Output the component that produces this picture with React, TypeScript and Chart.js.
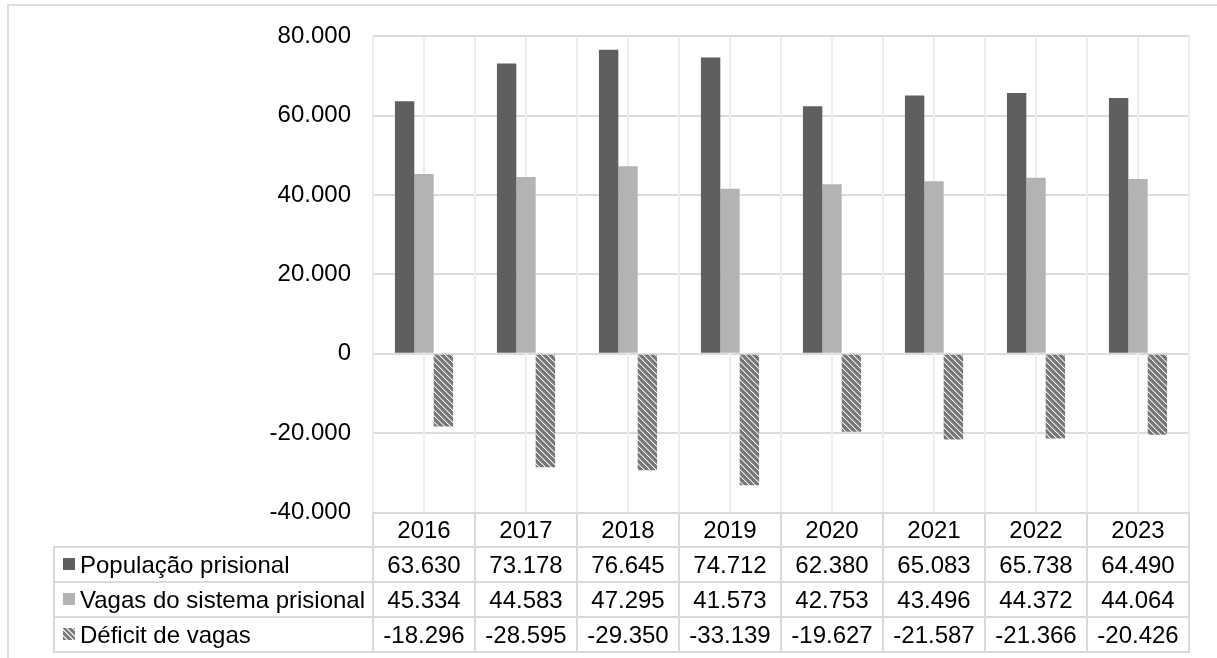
import React, { useEffect, useRef } from "react";
import { Chart, registerables } from "chart.js";

Chart.register(...registerables);

const categories = ["2016", "2017", "2018", "2019", "2020", "2021", "2022", "2023"];
const populacao = [63630, 73178, 76645, 74712, 62380, 65083, 65738, 64490];
const vagas = [45334, 44583, 47295, 41573, 42753, 43496, 44372, 44064];
const deficit = [-18296, -28595, -29350, -33139, -19627, -21587, -21366, -20426];
const seriesNames = ["População prisional", "Vagas do sistema prisional", "Déficit de vagas"];
const yMin = -40000;
const yMax = 80000;
const yStep = 20000;

const FONT = "'Liberation Sans', Arial, sans-serif";
const DARK = "#5f5f5f";
const LIGHT = "#b3b3b3";

function fmt(n: number): string {
  const s = String(Math.abs(n)).replace(/\B(?=(\d{3})+(?!\d))/g, ".");
  return (n < 0 ? "-" : "") + s;
}

function makePattern(): CanvasPattern | string {
  const c = document.createElement("canvas");
  const N = 6;
  c.width = N;
  c.height = N;
  const g = c.getContext("2d");
  if (!g) return "#808080";
  g.fillStyle = "#777777";
  g.fillRect(0, 0, N, N);
  for (let i = 0; i < N; i++) {
    g.fillStyle = "#eeeeee";
    g.fillRect(i, i, 1, 1);
    g.fillStyle = "#a8a8a8";
    g.fillRect((i + 1) % N, i, 1, 1);
  }
  const p = g.createPattern(c, "repeat");
  return p || "#808080";
}

const vGridPlugin = {
  id: "vgrid",
  beforeDatasetsDraw(chart: any) {
    const { ctx, chartArea, scales } = chart;
    const x = scales.x;
    const n = categories.length;
    const half = (chartArea.right - chartArea.left) / n / 2;
    ctx.save();
    ctx.strokeStyle = "#ededed";
    ctx.lineWidth = 2;
    for (let i = 0; i < n; i++) {
      const c = x.getPixelForValue(i);
      const xs = [c - half, c];
      if (i === n - 1) xs.push(c + half);
      for (const xx of xs) {
        ctx.beginPath();
        ctx.moveTo(xx, chartArea.top);
        ctx.lineTo(xx, chartArea.bottom);
        ctx.stroke();
      }
    }
    ctx.restore();
  },
};

export default function App() {
  const ref = useRef<HTMLCanvasElement | null>(null);

  useEffect(() => {
    if (!ref.current) return;
    const pattern = makePattern();
    const chart = new Chart(ref.current, {
      type: "bar",
      data: {
        labels: categories,
        datasets: [
          { label: seriesNames[0], data: populacao, backgroundColor: DARK },
          { label: seriesNames[1], data: vagas, backgroundColor: LIGHT },
          { label: seriesNames[2], data: deficit, backgroundColor: pattern as any },
        ],
      },
      options: {
        animation: false,
        responsive: false,
        devicePixelRatio: 1,
        layout: { padding: { left: 0, top: 34, right: 28, bottom: 145.5 } },
        datasets: {
          bar: { categoryPercentage: 0.57, barPercentage: 1.0, borderWidth: 0 },
        },
        plugins: {
          legend: { display: false },
          title: { display: false },
          tooltip: { enabled: false },
        },
        scales: {
          x: { display: false },
          y: {
            min: yMin,
            max: yMax,
            afterFit: (s: any) => {
              s.width = 373;
            },
            ticks: {
              stepSize: yStep,
              padding: 22,
              color: "#000",
              font: { family: FONT, size: 24 },
              callback: (v: any) => fmt(Number(v)),
            },
            grid: { color: "#dcdcdc", lineWidth: 2, drawTicks: false },
            border: { display: false },
          },
        },
      },
      plugins: [vGridPlugin],
    });
    return () => chart.destroy();
  }, []);

  const cellBorder = "2px solid #dadada";
  const td: React.CSSProperties = {
    border: cellBorder,
    padding: 0,
    textAlign: "center",
    verticalAlign: "middle",
    whiteSpace: "nowrap",
  };
  const swatch = (bg: string): React.CSSProperties => ({
    display: "inline-block",
    width: 12,
    height: 12,
    background: bg,
    marginRight: 5,
    verticalAlign: "middle",
    position: "relative",
    top: -2,
  });
  const hatchCss = "repeating-linear-gradient(45deg, #7a7a7a 0px, #7a7a7a 2.5px, #dedede 2.5px, #dedede 4px)";
  const rows = [
    { name: seriesNames[0], data: populacao, sw: DARK },
    { name: seriesNames[1], data: vagas, sw: LIGHT },
    { name: seriesNames[2], data: deficit, sw: hatchCss },
  ];

  return (
    <div
      style={{
        position: "absolute",
        left: 0,
        top: 0,
        width: 1217,
        height: 658,
        overflow: "hidden",
        background: "#fff",
      }}
    >
      <div
        style={{
          position: "absolute",
          left: 7,
          top: 4,
          width: 1400,
          height: 900,
          border: "2px solid #dddddd",
          boxSizing: "border-box",
        }}
      />
      <canvas
        ref={ref}
        width={1217}
        height={658}
        style={{ position: "absolute", left: 0, top: 0, width: 1217, height: 658 }}
      />
      <table
        style={{
          position: "absolute",
          left: 53,
          top: 512,
          borderCollapse: "collapse",
          tableLayout: "fixed",
          fontFamily: FONT,
          fontSize: 24,
          color: "#000",
        }}
      >
        <colgroup>
          <col style={{ width: 319 }} />
          {categories.map((c) => (
            <col key={c} style={{ width: 102 }} />
          ))}
        </colgroup>
        <tbody>
          <tr style={{ height: 34 }}>
            <td style={{ border: "none", padding: 0 }} />
            {categories.map((c) => (
              <td key={c} style={td}>
                {c}
              </td>
            ))}
          </tr>
          {rows.map((r) => (
            <tr key={r.name} style={{ height: 35 }}>
              <td style={{ ...td, textAlign: "left", paddingLeft: 8 }}>
                <span style={swatch(r.sw)} />
                {r.name}
              </td>
              {r.data.map((v, i) => (
                <td key={i} style={td}>
                  {fmt(v)}
                </td>
              ))}
            </tr>
          ))}
        </tbody>
      </table>
    </div>
  );
}
